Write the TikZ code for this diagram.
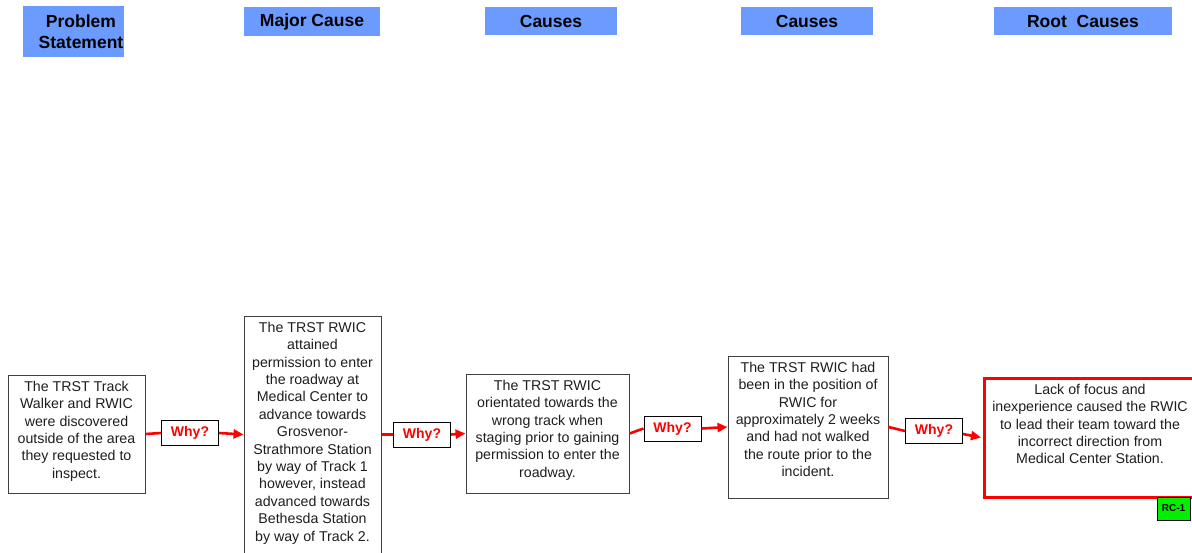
\documentclass[tikz,border=0pt]{standalone}
\usepackage{fontspec}
\setmainfont{Liberation Sans}
\usetikzlibrary{arrows.meta}
\definecolor{rcaInk}{HTML}{1E1E1E}
\definecolor{rcaFrame}{HTML}{404040}
\definecolor{rcaHead}{HTML}{6B9BFF}
\definecolor{rcaRed}{HTML}{FF0000}
\definecolor{rcaGreen}{HTML}{00F000}
\newcommand{\rcaText}[3]{\parbox[c][#2][t]{#1}{\centering\vspace*{6pt}#3}}
\tikzset{
  every picture/.style={text=rcaInk},
  rca hdr/.style={fill=rcaHead, inner sep=0pt},
  rca hdr text/.style={font=\bfseries\fontsize{17.5}{21.5}\selectfont,
    text=black, align=center, inner sep=0pt},
  rca box/.style={draw=rcaFrame, line width=1pt, fill=white, inner sep=0pt,
    font=\fontsize{14.2}{17.4}\selectfont},
  rca root/.style={rca box, draw=rcaRed, line width=3pt},
  rca why/.style={draw=black, line width=1pt, fill=white, inner sep=0pt,
    minimum width=57, minimum height=25,
    font=\bfseries\fontsize{14}{16}\selectfont, text=rcaRed},
  rca tag/.style={draw=black, line width=0.8pt, fill=rcaGreen, inner sep=0pt,
    minimum width=33, minimum height=23,
    font=\bfseries\fontsize{10}{11}\selectfont, text=black},
  rca line/.style={draw=rcaRed, line width=2.6pt},
  rca arrow/.style={rca line, -{Triangle[length=10pt,width=9pt]}}
}
\begin{document}
\begin{tikzpicture}[x=1pt,y=-1pt]
  \useasboundingbox (0,0) rectangle (1192,552);
  % column headers
  \node[rca hdr, minimum width=101, minimum height=51] (hdrPS) at (73.5,31.5) {};
  \node[rca hdr text] (hdrPSText) at (81,31.5) {Problem\\Statement};
  \node[rca hdr, rca hdr text, minimum width=136, minimum height=29] (hdrMC) at (312,21.5) {Major Cause};
  \node[rca hdr, rca hdr text, minimum width=132, minimum height=28] (hdrCA1) at (551,21) {Causes};
  \node[rca hdr, rca hdr text, minimum width=132, minimum height=28] (hdrCA2) at (807,21) {Causes};
  \node[rca hdr, rca hdr text, minimum width=178, minimum height=28] (hdrRC) at (1083,21) {Root~ Causes};
  % chain of boxes
  \node[rca box] (ps) at (76.5,434) {\rcaText{137pt}{118pt}{The TRST Track\\Walker and RWIC\\were discovered\\outside of the area\\they requested to\\inspect.}};
  \node[rca box] (mc) at (312.5,434.5) {\rcaText{137pt}{237pt}{The TRST RWIC\\attained\\permission to enter\\the roadway at\\Medical Center to\\advance towards\\Grosvenor-\\Strathmore Station\\by way of Track 1\\however, instead\\advanced towards\\Bethesda Station\\by way of Track 2.}};
  \node[rca box] (ca1) at (547.5,433.5) {\rcaText{163pt}{119pt}{The TRST RWIC\\orientated towards the\\wrong track when\\staging prior to gaining\\permission to enter the\\roadway.}};
  \node[rca box] (ca2) at (808,427) {\rcaText{160pt}{142pt}{The TRST RWIC had\\been in the position of\\RWIC for\\approximately 2 weeks\\and had not walked\\the route prior to the\\incident.}};
  \node[rca root] (rc) at (1090,437.5) {\rcaText{212pt}{119pt}{Lack of focus and\\inexperience caused the RWIC\\to lead their team toward the\\incorrect direction from\\Medical Center Station.}};
  \node[rca tag] (rcTag) at (1173.5,508.5) {RC-1};
  % why links
  \node[rca why] (why1) at (190,433) {Why?};
  \node[rca why] (why2) at (422,434.5) {Why?};
  \node[rca why] (why3) at (672.5,428.5) {Why?};
  \node[rca why] (why4) at (934,431) {Why?};
  \draw[rca line] (ps.east) -- (why1.west);
  \draw[rca arrow] (why1.east) -- (mc.west);
  \draw[rca line] (mc.east) -- (why2.west);
  \draw[rca arrow] (why2.east) -- (ca1.west);
  \draw[rca line] (ca1.east) -- (why3.west);
  \draw[rca arrow] (why3.east) -- (ca2.west);
  \draw[rca line] (ca2.east) -- (why4.west);
  \draw[rca arrow] ([yshift=-3pt]why4.east) -- ([xshift=-1.5pt]rc.west);
\end{tikzpicture}
\end{document}
